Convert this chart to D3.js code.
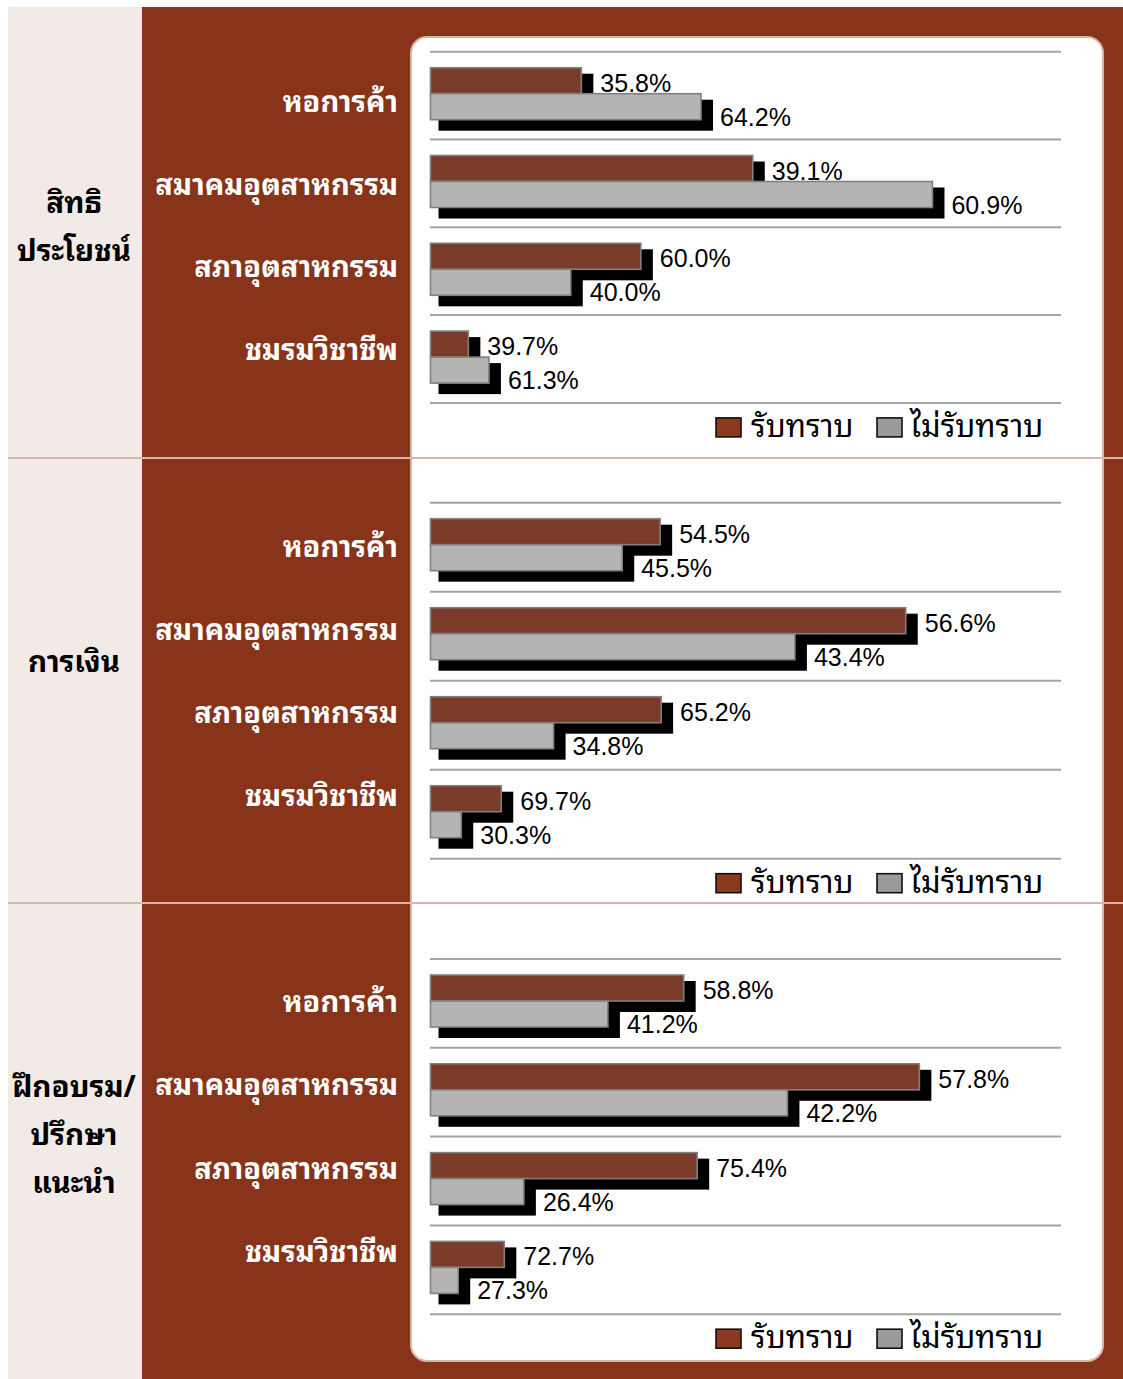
<!DOCTYPE html>
<html>
<head>
<meta charset="utf-8">
<script src="https://cdn.jsdelivr.net/npm/d3@7"></script>
<style>
  html, body { margin: 0; padding: 0; background: #ffffff; }
  svg { display: block; }
</style>
</head>
<body>
<svg id="chart" width="1123" height="1379"></svg>
<script>
// ---- data ----
const groupLines = [["สิทธิ", "ประโยชน์"], ["การเงิน"], ["ฝึกอบรม/", "ปรึกษา", "แนะนำ"]];
const organisations = ["หอการค้า", "สมาคมอุตสาหกรรม", "สภาอุตสาหกรรม", "ชมรมวิชาชีพ"];
const seriesNames = ["รับทราบ", "ไม่รับทราบ"];
// share of respondents (%) who know / do not know, per group and organisation
const awarePct = [
  [35.8, 39.1, 60.0, 39.7],
  [54.5, 56.6, 65.2, 69.7],
  [58.8, 57.8, 75.4, 72.7]
];
const unawarePct = [
  [64.2, 60.9, 40.0, 61.3],
  [45.5, 43.4, 34.8, 30.3],
  [41.2, 42.2, 26.4, 27.3]
];
// respondents per organisation, bars show pct × respondents
const respondents = [
  [137, 268, 114, 31],
  [137, 273, 115, 33],
  [140, 275, 115, 33]
];

// ---- layout ----
const W = 1123, H = 1379;
const colors = {
  page: "#ffffff",
  side: "#f2eae7",
  brown: "#87341b",
  panelStroke: "#d9b4a7",
  divider: "#d8b6aa",
  grid: "#a3a3a3",
  barAware: "#7a3b29",
  barUnaware: "#b4b4b4",
  barStroke: "#808080",
  legendAware: "#8b3a1e",
  legendUnaware: "#9a9a9a"
};
const thaiFont = "'Noto Sans Thai Looped', Loma, Garuda, Tahoma, 'Noto Sans Thai', 'Noto Sans Thai UI', 'Noto Sans', sans-serif";
const numFont = "'Liberation Sans', Arial, sans-serif";

const sections = [
  { y0: 7,   y1: 458,  titleMid: 236.5, gridTop: 51.7,  step: 87.8, labelFirst: 112,  labelLast: 360 },
  { y0: 458, y1: 903,  titleMid: 672,   gridTop: 502.7, step: 89.0, labelFirst: 557,  labelLast: 806 },
  { y0: 903, y1: 1379, titleMid: 1145,  gridTop: 959,   step: 88.8, labelFirst: 1012, labelLast: 1262 }
];

const x = d3.scaleLinear().domain([0, 205]).range([430.5, 1061]);
const barH = 26, barOffset = 16;
const fmt = v => d3.format(".1f")(v) + "%";

const svg = d3.select("#chart");

// backgrounds
svg.append("rect").attr("x", 0).attr("y", 0).attr("width", W).attr("height", H).attr("fill", colors.page);
svg.append("rect").attr("x", 8).attr("y", 7).attr("width", 134).attr("height", H - 7).attr("fill", colors.side);
svg.append("rect").attr("x", 142).attr("y", 7).attr("width", W - 142).attr("height", H - 7).attr("fill", colors.brown);
svg.append("rect")
  .attr("x", 411).attr("y", 37).attr("width", 692).attr("height", 1324)
  .attr("rx", 16).attr("ry", 16)
  .attr("fill", "#ffffff").attr("stroke", colors.panelStroke).attr("stroke-width", 2);

// dividers between groups
svg.selectAll("line.divider")
  .data(sections.slice(1))
  .join("line")
  .attr("class", "divider")
  .attr("x1", 8).attr("x2", W)
  .attr("y1", d => d.y0).attr("y2", d => d.y0)
  .attr("stroke", colors.divider).attr("stroke-width", 2);

sections.forEach((sec, gi) => {
  const g = svg.append("g").attr("class", "group");

  // group title in the side column
  const lines = groupLines[gi];
  const lh = 48;
  g.selectAll("text.group-title")
    .data(lines)
    .join("text")
    .attr("class", "group-title")
    .attr("x", 74)
    .attr("y", (d, i) => sec.titleMid + (i - (lines.length - 1) / 2) * lh)
    .attr("text-anchor", "middle")
    .attr("font-family", thaiFont)
    .attr("font-weight", "bold")
    .attr("font-size", 29.5)
    .attr("fill", "#000")
    .text(d => d);

  // organisation names
  const yLabel = d3.scalePoint().domain(organisations).range([sec.labelFirst, sec.labelLast]);
  g.selectAll("text.org")
    .data(organisations)
    .join("text")
    .attr("class", "org")
    .attr("x", 398)
    .attr("y", d => yLabel(d))
    .attr("text-anchor", "end")
    .attr("font-family", thaiFont)
    .attr("font-weight", "bold")
    .attr("font-size", 29)
    .attr("fill", "#ffffff")
    .text(d => d);

  // category bands
  const y = d3.scaleBand().domain(organisations)
    .range([sec.gridTop, sec.gridTop + sec.step * organisations.length]);

  // grid lines at band edges
  const edges = organisations.map(o => y(o)).concat([y.range()[1]]);
  g.selectAll("line.grid")
    .data(edges)
    .join("line")
    .attr("class", "grid")
    .attr("x1", 430).attr("x2", 1061)
    .attr("y1", d => d).attr("y2", d => d)
    .attr("stroke", colors.grid).attr("stroke-width", 2);

  const rows = organisations.map((o, i) => {
    const n = respondents[gi][i];
    return {
      org: o,
      bars: [
        { key: 0, pct: awarePct[gi][i], v: awarePct[gi][i] * n / 100 },
        { key: 1, pct: unawarePct[gi][i], v: unawarePct[gi][i] * n / 100 }
      ]
    };
  });

  const row = g.selectAll("g.row")
    .data(rows)
    .join("g")
    .attr("class", "row")
    .attr("transform", d => `translate(0,${y(d.org) + barOffset})`);

  // drop shadows
  row.selectAll("rect.shadow")
    .data(d => d.bars)
    .join("rect")
    .attr("class", "shadow")
    .attr("x", x(0) + 8)
    .attr("y", d => d.key * barH + 6)
    .attr("width", d => x(d.v) - x(0) + 4)
    .attr("height", barH + 5)
    .attr("fill", "#000");

  // bars
  row.selectAll("rect.bar")
    .data(d => d.bars)
    .join("rect")
    .attr("class", "bar")
    .attr("x", x(0))
    .attr("y", d => d.key * barH)
    .attr("width", d => x(d.v) - x(0))
    .attr("height", barH)
    .attr("fill", d => d.key === 0 ? colors.barAware : colors.barUnaware)
    .attr("stroke", colors.barStroke)
    .attr("stroke-width", 1.6);

  // value labels
  row.selectAll("text.value")
    .data(d => d.bars)
    .join("text")
    .attr("class", "value")
    .attr("x", d => x(d.v) + 12 + 7)
    .attr("y", d => d.key * barH + barH / 2 + (d.key === 0 ? 11 : 19))
    .attr("font-family", numFont)
    .attr("font-size", 25)
    .attr("fill", "#000")
    .text(d => fmt(d.pct));

  // legend
  const legY = y.range()[1] + 15;
  const legItems = [
    { name: seriesNames[0], fill: colors.legendAware, x: 716, tx: 751 },
    { name: seriesNames[1], fill: colors.legendUnaware, x: 877, tx: 910 }
  ];
  const leg = g.selectAll("g.legend")
    .data(legItems)
    .join("g")
    .attr("class", "legend");
  leg.append("rect")
    .attr("x", d => d.x).attr("y", legY)
    .attr("width", 25).attr("height", 19)
    .attr("fill", d => d.fill)
    .attr("stroke", "#111").attr("stroke-width", 1.6);
  leg.append("text")
    .attr("x", d => d.tx).attr("y", legY + 19)
    .attr("font-family", thaiFont)
    .attr("font-size", 31)
    .attr("fill", "#000")
    .text(d => d.name);
});
</script>
</body>
</html>
